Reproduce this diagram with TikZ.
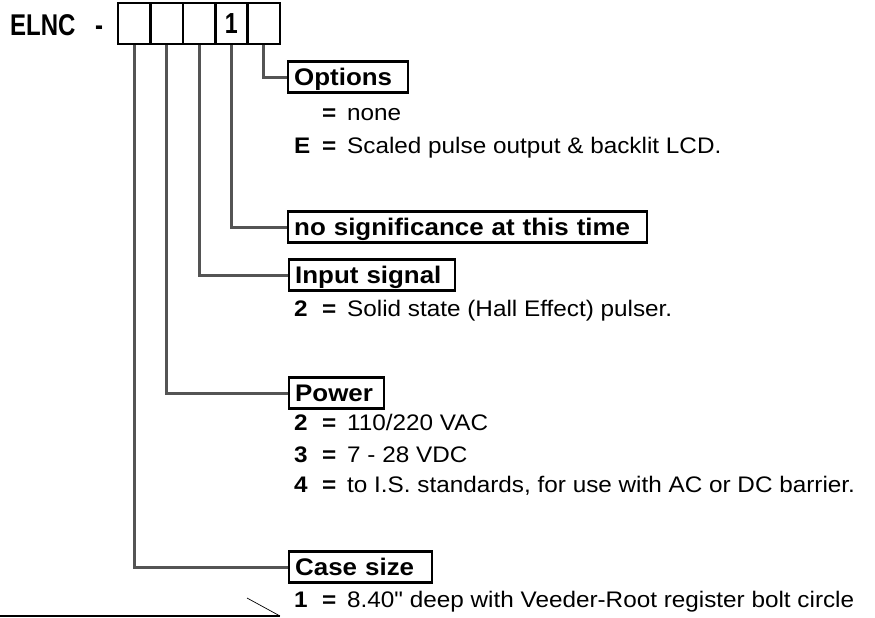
\documentclass[tikz,border=0pt]{standalone}
\usepackage{fontspec}
\setmainfont{Liberation Sans}[FakeStretch=1.08, Ligatures=TeXOff]
\newfontfamily\hdrfont{Liberation Sans}[FakeStretch=0.8]
\definecolor{conncol}{gray}{0.33}
\tikzset{
  txt/.style={inner sep=0pt, anchor=base west, font=\fontsize{22.5}{27}\selectfont},
  lbl/.style={draw, line width=2.4pt, anchor=west, minimum height=31pt, inner xsep=6pt, inner ysep=0pt,
    text width=#1, align=left, text height=17pt, text depth=0pt, font=\fontsize{24}{28}\selectfont\bfseries},
  cell/.style={draw, line width=2.6pt, minimum width=32.4pt, minimum height=41pt, inner sep=0pt,
    font=\hdrfont\fontsize{29}{30}\selectfont\bfseries},
  hdr/.style={inner sep=0pt, anchor=base west, font=\hdrfont\fontsize{30}{32}\selectfont\bfseries},
  conn/.style={draw=conncol, line width=3pt},
}
\newcommand\optline[4]{%
  \node[txt] (#1n) at (294,#2) {\textbf{#3}};
  \node[txt] (#1e) at (322,#2) {\textbf{=}};
  \node[txt] (#1t) at (347,#2) {#4};}
\begin{document}
\begin{tikzpicture}[x=1pt,y=-1pt]
\useasboundingbox (0,0) rectangle (875,618);
% header
\node[hdr] (elnc) at (10,35.5) {ELNC};
\node[hdr] (dash) at (95,35.5) {-};
\foreach \i/\t in {1/,2/,3/,4/1,5/} {
  \node[cell] (c\i) at ({118+32.4*(\i-0.5)},23.5) {\t};
}
% label boxes
\node[lbl=108pt] (opt) at (287,77) {Options};
\node[lbl=347pt] (nosig) at (287,227) {no significance at this time};
\node[lbl=154pt] (inp) at (288,275) {Input signal};
\node[lbl=83pt] (pow) at (288,393) {Power};
\node[lbl=131pt] (case) at (288,567) {Case size};
% connectors
\draw[conn] (c5.south) |- (opt.west);
\draw[conn] (c4.south) |- (nosig.west);
\draw[conn] (c3.south) |- (inp.west);
\draw[conn] (c2.south) |- (pow.west);
\draw[conn] (c1.south) |- (case.west);
% option texts
\optline{o1}{120}{}{none}
\optline{o2}{153}{E}{Scaled pulse output \& backlit LCD.}
\optline{i1}{316}{2}{Solid state (Hall Effect) pulser.}
\optline{p1}{430}{2}{110/220 VAC}
\optline{p2}{462}{3}{7 - 28 VDC}
\optline{p3}{492}{4}{to I.S. standards, for use with AC or DC barrier.}
\optline{s1}{607}{1}{8.40" deep with Veeder-Root register bolt circle}
% bottom line
\coordinate (bl) at (0,616);
\coordinate (br) at (280,616);
\coordinate (bt) at (247,598);
\draw[line width=2pt] (bl) -- (br);
\draw[line width=0.7pt] (bt) -- (br);
\end{tikzpicture}
\end{document}
